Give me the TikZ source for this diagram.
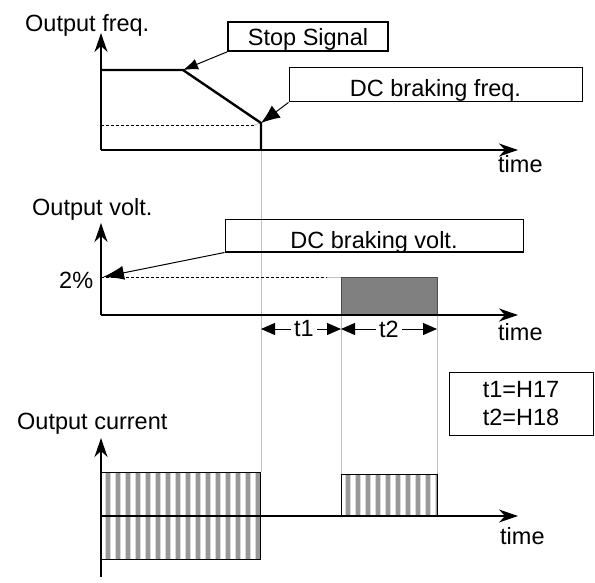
\documentclass[tikz,border=0pt]{standalone}
\usepackage{fontspec}
\setmainfont{Liberation Sans}
\usetikzlibrary{arrows.meta}

\begin{document}
\begin{tikzpicture}[x=1pt,y=-1pt,
  font=\fontsize{23.5}{28}\selectfont,
  axis/.style={line width=1.6pt, -{Stealth[length=19pt,width=13pt,inset=6pt]}},
  sig/.style={line width=2.4pt},
  lvl/.style={line width=0.8pt, dash pattern=on 3pt off 2pt},
  guide/.style={draw=black!25, line width=0.7pt},
  callout/.style={draw, line width=1pt, inner sep=0pt, text depth=0pt},
  pointer/.style={line width=1pt, -{Latex[length=18pt,width=13pt]}},
  dim/.style={line width=1pt, -{Triangle[length=14pt,width=12pt]}},
  lbl/.style={inner sep=0pt},
  burst/.style={draw, line width=0.8pt},
]
\useasboundingbox (0,0) rectangle (595,583);
% timing guides
\coordinate (g1a) at (261,150); \coordinate (g1b) at (261,472);
\coordinate (g2a) at (341,315); \coordinate (g2b) at (341,474);
\coordinate (g3a) at (437,315); \coordinate (g3b) at (437,474);
\draw[guide] (g1a) -- (g1b);
\draw[guide] (g2a) -- (g2b);
\draw[guide] (g3a) -- (g3b);
% output frequency
\coordinate (f0) at (101,150); \coordinate (fy) at (101,33); \coordinate (fx) at (518,150);
\coordinate (fa) at (101,70); \coordinate (fb) at (183,70);
\coordinate (fc) at (261,123); \coordinate (fd) at (261,150);
\coordinate (fl) at (101,125); \coordinate (fm) at (254,125);
\draw[lvl] (fl) -- (fm);
\draw[guide] (fm) -- (fc);
\draw[axis] (f0) -- (fy);
\draw[axis] (f0) -- (fx);
\draw[sig] (fa) -- (fb) -- (fc) -- (fd);
\node[lbl, anchor=base west] (flab) at (25,32) {Output freq.};
\node[lbl, anchor=base west] (ftime) at (498,173) {time};
\node[callout, line width=1.7pt, minimum width=160pt, minimum height=29pt, text height=19pt] (stop) at (308,36.5) {Stop Signal};
\node[callout, minimum width=293pt, minimum height=34pt, text height=24pt] (dcf) at (435.5,85) {DC braking freq.};
\draw[pointer, -{Latex[length=15pt,width=11pt]}] (stop.south west) -- (fb);
\draw[pointer, -{Latex[length=19pt,width=15pt]}] (dcf.south west) -- (fc);
% output voltage
\coordinate (v0) at (101,315); \coordinate (vy) at (101,223); \coordinate (vx) at (518,315);
\coordinate (vl) at (103,277); \coordinate (vm) at (327,277); \coordinate (vn) at (341,277);
\draw[lvl] (101,277) -- (vm);
\draw[guide] (vm) -- (vn);
\draw[fill=black!50, draw=black!70, line width=1pt] (vn) rectangle (g3a);
\draw[axis] (v0) -- (vy);
\draw[axis] (v0) -- (vx);
\node[lbl, anchor=base west] (vlab) at (32,215) {Output volt.};
\node[lbl, anchor=base west] (vpct) at (59,288) {2\%};
\node[lbl, anchor=base west] (vtime) at (498,340) {time};
\node[callout, minimum width=298pt, minimum height=32pt, text height=25pt] (dcv) at (374,236) {DC braking volt.};
\draw[pointer, -{Latex[length=21pt,width=14pt]}] (dcv.south west) -- (vl);
% braking intervals
\coordinate (d1) at (261,329); \coordinate (d2) at (341,329); \coordinate (d3) at (437,329);
\node[lbl, inner sep=3pt] (t1) at (304,329) {t1};
\node[lbl, inner sep=3pt] (t2) at (389,329) {t2};
\draw[dim] (t1) -- (d1);
\draw[dim] (t1) -- (d2);
\draw[dim] (t2) -- (d2);
\draw[dim] (t2) -- (d3);
\node[callout, align=center, minimum width=144pt, minimum height=63pt] (tset) at (521,403.5) {t1=H17\\t2=H18};
% output current
\foreach \xa/\xb/\ya/\yb in {101/260/472/559, 341/437/474/516} {
  \begin{scope}
    \clip (\xa,\ya) rectangle (\xb,\yb);
    \foreach \s in {0,...,16} {
      \fill[black!15] ({\xa+10*\s+4},\ya) rectangle ({\xa+10*\s+10},\yb);
      \fill[black!40] ({\xa+10*\s+5},\ya) rectangle ({\xa+10*\s+9},\yb);
    }
  \end{scope}
  \draw[burst] (\xa,\ya) rectangle (\xb,\yb);
}
\coordinate (cb) at (101,577); \coordinate (cy) at (101,438);
\coordinate (c0) at (101,516); \coordinate (cx) at (518,516);
\draw[axis] (cb) -- (cy);
\draw[axis] (c0) -- (cx);
\node[lbl, anchor=base west] (clab) at (17,429) {Output current};
\node[lbl, anchor=base west] (ctime) at (500,544) {time};
\end{tikzpicture}
\end{document}
